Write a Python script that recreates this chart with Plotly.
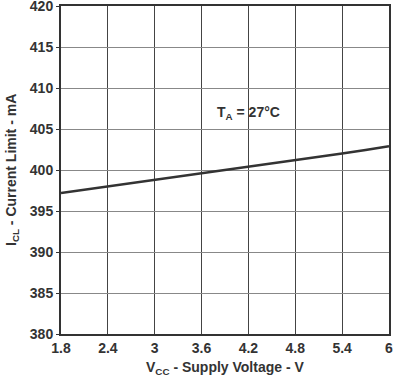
import plotly.graph_objects as go

vcc = [1.8, 2.1, 2.4, 2.7, 3.0, 3.3, 3.6, 3.9, 4.2, 4.5, 4.8, 5.1, 5.4, 5.7, 6.0]
icl = [397.2, 397.6, 397.95, 398.4, 398.8, 399.2, 399.6, 400.0, 400.4, 400.8, 401.2, 401.6, 402.0, 402.45, 402.9]

x_ticks = [1.8, 2.4, 3.0, 3.6, 4.2, 4.8, 5.4, 6.0]
x_labels = ["1.8", "2.4", "3", "3.6", "4.2", "4.8", "5.4", "6"]
y_ticks = [380, 385, 390, 395, 400, 405, 410, 415, 420]

font = "Liberation Sans, Arial, sans-serif"

fig = go.Figure()
fig.add_trace(go.Scatter(x=vcc, y=icl, mode="lines",
                         line=dict(color="#333333", width=2.5), showlegend=False))

fig.add_annotation(x=4.2, y=406.9, xref="x", yref="y", showarrow=False,
                   text="<b>T<sub>A</sub> = 27°C</b>",
                   font=dict(family=font, size=14, color="#333333"))

fig.add_annotation(x=0.5, y=0, xref="paper", yref="paper", yshift=-34, showarrow=False,
                   xanchor="center", yanchor="middle",
                   text="<b>V<sub>CC</sub> - Supply Voltage - V</b>",
                   font=dict(family=font, size=14, color="#333333"))
fig.add_annotation(x=0, y=0.5, xref="paper", yref="paper", xshift=-49, showarrow=False,
                   xanchor="center", yanchor="middle", textangle=-90,
                   text="<b>I<sub>CL</sub> - Current Limit - mA</b>",
                   font=dict(family=font, size=14, color="#333333"))

fig.update_layout(
    width=398, height=377,
    margin=dict(l=61, r=9, t=6, b=43),
    plot_bgcolor="white", paper_bgcolor="white",
    font=dict(family=font, size=14, color="#333333"),
    xaxis=dict(range=[1.8, 6.0], tickvals=x_ticks, ticktext=[f"<b>{t}</b>" for t in x_labels],
               showgrid=True, gridcolor="#444444", gridwidth=1,
               showline=True, linecolor="#333333", linewidth=2, mirror=True,
               ticks="", zeroline=False, automargin=False, ticklabeloverflow="allow",
               tickfont=dict(size=14)),
    yaxis=dict(range=[380, 420], tickvals=y_ticks, ticktext=[f"<b>{t}</b>" for t in y_ticks],
               showgrid=True, gridcolor="#888888", gridwidth=1,
               showline=True, linecolor="#333333", linewidth=2, mirror=True,
               ticks="outside", ticklen=3, tickcolor="#333333", zeroline=False,
               automargin=False, ticklabeloverflow="allow", tickfont=dict(size=14)),
)

fig.write_html("out.html", config={"displayModeBar": False},
               post_script="document.body.style.margin='0';document.body.style.overflow='hidden';")
